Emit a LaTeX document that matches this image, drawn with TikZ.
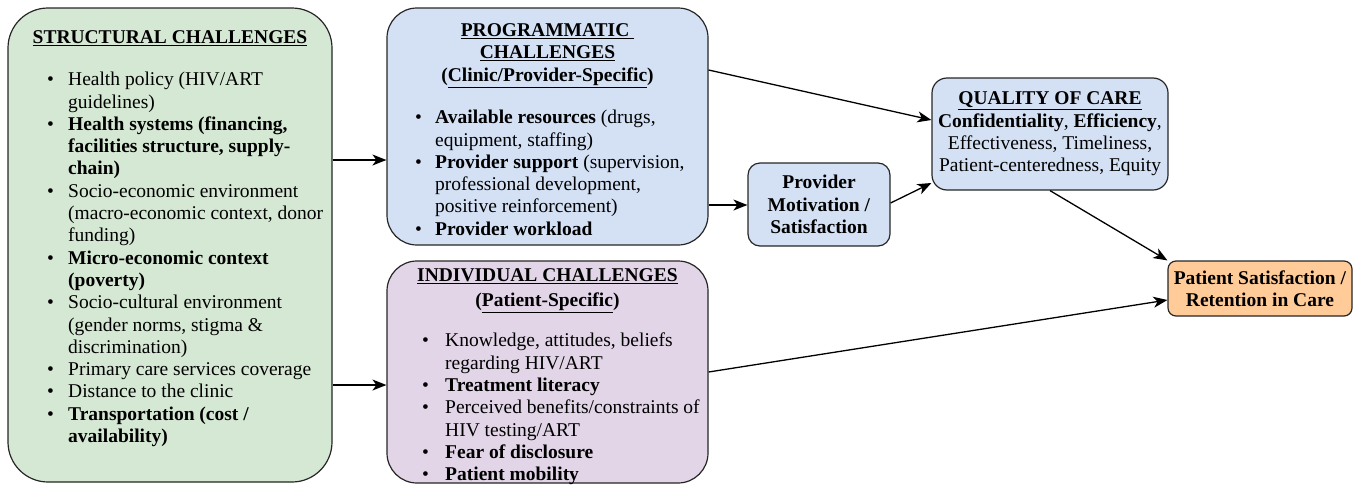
\documentclass[tikz,border=0pt]{standalone}
\usepackage{fontspec}
\setmainfont{Liberation Serif}
\usetikzlibrary{arrows.meta}

\definecolor{greenfill}{HTML}{D5E8D4}
\definecolor{bluefill}{HTML}{D4E1F5}
\definecolor{purplefill}{HTML}{E1D5E7}
\definecolor{orangefill}{HTML}{FFCC99}
\definecolor{boxline}{HTML}{262626}

% bullet line and its hanging continuation
\newcommand\bitem[1]{\makebox[#1][l]{\textbullet}}
\newcommand\bcont[1]{\hspace*{#1}}

\begin{document}
\begin{tikzpicture}[x=1pt,y=-1pt,
  box/.style={draw=boxline, line width=1.2pt, inner sep=0pt},
  body/.style={font=\fontsize{19.5}{22.3}\selectfont, inner sep=0pt, align=left},
  ctext/.style={font=\fontsize{19.5}{22.4}\selectfont, align=center},
  ttl/.style={font=\fontsize{19.5}{22.3}\selectfont\bfseries, inner sep=0pt, anchor=base},
  arr/.style={-{Stealth[length=14pt,width=11pt,inset=4pt]}, line width=1.3pt, draw=black}]
\useasboundingbox (0,0) rectangle (1359,485);

% ---- left column
\node[box, fill=greenfill, rounded corners=40pt, minimum width=324pt, minimum height=474pt] (struct) at (170,245) {};
\node[ttl] (stitle) at (170,43.5) {\underline{STRUCTURAL CHALLENGES}};
\node[body, anchor=north west] (stxt) at (47,72) {%
\bitem{21pt}Health policy (HIV/ART\\
\bcont{21pt}guidelines)\\
\bitem{21pt}\textbf{Health systems (financing,}\\
\bcont{21pt}\textbf{facilities structure, supply-}\\
\bcont{21pt}\textbf{chain)}\\
\bitem{21pt}Socio-economic environment\\
\bcont{21pt}(macro-economic context, donor\\
\bcont{21pt}funding)\\
\bitem{21pt}\textbf{Micro-economic context}\\
\bcont{21pt}\textbf{(poverty)}\\
\bitem{21pt}Socio-cultural environment\\
\bcont{21pt}(gender norms, stigma \&\\
\bcont{21pt}discrimination)\\
\bitem{21pt}Primary care services coverage\\
\bitem{21pt}Distance to the clinic\\
\bitem{21pt}\textbf{Transportation (cost /}\\
\bcont{21pt}\textbf{availability)}};

% ---- middle column, top
\node[box, fill=bluefill, rounded corners=30pt, minimum width=321pt, minimum height=237pt] (prog) at (547.5,126.5) {};
\node[ttl] (ptitle1) at (547.5,36.5) {\underline{PROGRAMMATIC\ }};
\node[ttl] (ptitle2) at (547.5,58.5) {\underline{CHALLENGES}};
\node[ttl] (ptitle3) at (547.5,81.5) {(\underline{Clinic/Provider-Specific})};
\node[body, anchor=north west] (ptxt) at (415,110) {%
\bitem{20pt}\textbf{Available resources} (drugs,\\
\bcont{20pt}equipment, staffing)\\
\bitem{20pt}\textbf{Provider support} (supervision,\\
\bcont{20pt}professional development,\\
\bcont{20pt}positive reinforcement)\\
\bitem{20pt}\textbf{Provider workload}};

% ---- middle column, bottom
\node[box, fill=purplefill, rounded corners=30pt, minimum width=321pt, minimum height=222pt] (indiv) at (547.5,372) {};
\node[ttl] (ititle1) at (547.5,281.5) {\underline{INDIVIDUAL CHALLENGES}};
\node[ttl] (ititle2) at (547.5,306.5) {(\underline{Patient-Specific})};
\node[body, anchor=north west] (itxt) at (422,333) {%
\bitem{23pt}Knowledge, attitudes, beliefs\\
\bcont{23pt}regarding HIV/ART\\
\bitem{23pt}\textbf{Treatment literacy}\\
\bitem{23pt}Perceived benefits/constraints of\\
\bcont{23pt}HIV testing/ART\\
\bitem{23pt}\textbf{Fear of disclosure}\\
\bitem{23pt}\textbf{Patient mobility}};

% ---- right side
\node[box, fill=bluefill, rounded corners=12pt, minimum width=142pt, minimum height=83pt, ctext] (prov) at (819,204.5)
  {\textbf{Provider}\\\textbf{Motivation /}\\\textbf{Satisfaction}};
\node[box, fill=bluefill, rounded corners=15pt, minimum width=236pt, minimum height=112pt, ctext] (qual) at (1050,134)
  {\textbf{\underline{QUALITY OF CARE}}\\\textbf{Confidentiality}, \textbf{Efficiency},\\Effectiveness, Timeliness,\\Patient-centeredness, Equity};
\node[box, fill=orangefill, rounded corners=8pt, minimum width=184pt, minimum height=55pt, ctext] (pat) at (1260,288.5)
  {\textbf{Patient Satisfaction /}\\\textbf{Retention in Care}};

% ---- connector heights
\coordinate (h160) at (0,160);
\coordinate (h385) at (0,385);
\coordinate (h205) at (0,205);
\coordinate (h70) at (0,70);
\coordinate (h120) at (0,120);
\coordinate (h203) at (0,203);
\coordinate (h183) at (0,183);
\coordinate (h372) at (0,372);
\coordinate (h300) at (0,300);

\draw[arr] (struct.east |- h160) -- (prog.west |- h160);
\draw[arr] (struct.east |- h385) -- (indiv.west |- h385);
\draw[arr] (prog.east |- h205) -- (prov.west |- h205);
\draw[arr] (prog.east |- h70) -- (qual.west |- h120);
\draw[arr] (prov.east |- h203) -- (qual.west |- h183);
\draw[arr] (qual.south) -- (pat.north west);
\draw[arr] (indiv.east |- h372) -- (pat.west |- h300);
\end{tikzpicture}
\end{document}
